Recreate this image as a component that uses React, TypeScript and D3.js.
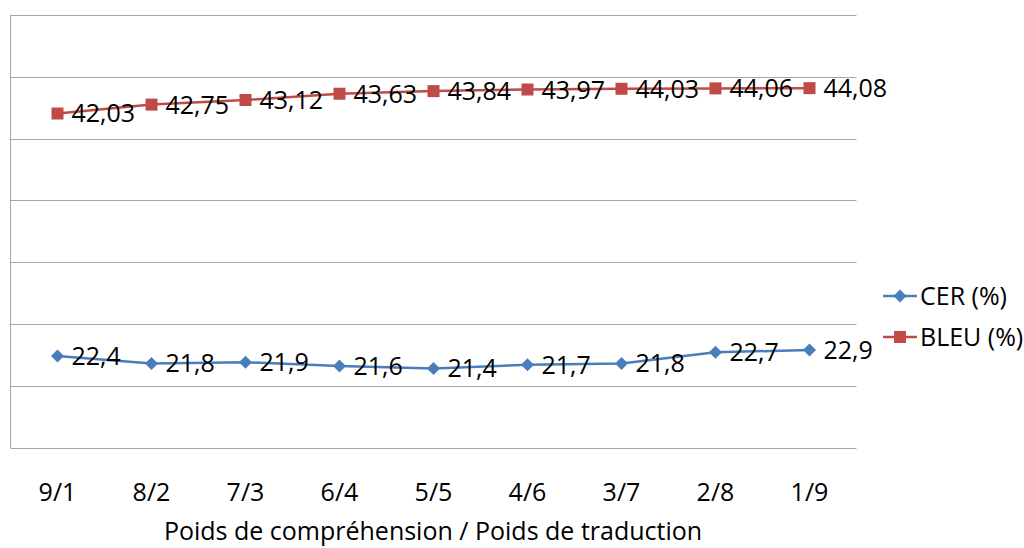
import React from 'react';
import * as d3 from 'd3';

const categories = ['9/1', '8/2', '7/3', '6/4', '5/5', '4/6', '3/7', '2/8', '1/9'];
const cerValues = [22.4, 21.8, 21.9, 21.6, 21.4, 21.7, 21.8, 22.7, 22.9];
const bleuValues = [42.03, 42.75, 43.12, 43.63, 43.84, 43.97, 44.03, 44.06, 44.08];
const yTicks = [15, 20, 25, 30, 35, 40, 45, 50];

const W = 1024;
const H = 548;
const plot = { left: 10.5, right: 856.5, top: 15, bottom: 447.5 };
const FONT = '"Open Sans", sans-serif';

const locale = d3.formatLocale({ decimal: ',', thousands: ' ', grouping: [3], currency: ['', '€'] });

const series = [
  { name: 'CER (%)', values: cerValues, color: '#4a7ebb', marker: 'diamond', fmt: locale.format('.1f') },
  { name: 'BLEU (%)', values: bleuValues, color: '#be4b48', marker: 'square', fmt: locale.format('.2f') },
];

const Marker = ({ kind, x, y, color }: { kind: string; x: number; y: number; color: string }) =>
  kind === 'square' ? (
    <rect x={x - 6} y={y - 6} width={12} height={12} fill={color} />
  ) : (
    <path d={`M${x},${y - 6.5}L${x + 6.5},${y}L${x},${y + 6.5}L${x - 6.5},${y}Z`} fill={color} />
  );

export default function App() {
  const x = d3.scalePoint<string>().domain(categories).range([plot.left, plot.right]).padding(0.5);
  const y = d3.scaleLinear().domain([15, 50]).range([plot.bottom, plot.top]);
  const line = d3
    .line<number>()
    .x((_, i) => x(categories[i]) as number)
    .y((d) => y(d));

  return (
    <svg
      width={W}
      height={H}
      style={{ position: 'absolute', left: 0, top: 0, background: '#fff', fontFamily: FONT }}
    >
      {yTicks.map((t) => (
        <line key={t} x1={plot.left} x2={plot.right} y1={Math.round(y(t)) + 0.5} y2={Math.round(y(t)) + 0.5} stroke="#a6a6a6" strokeWidth={1} />
      ))}
      <line x1={plot.left} x2={plot.left} y1={plot.top} y2={plot.bottom + 0.5} stroke="#a6a6a6" strokeWidth={1} />

      {series.map((s) => (
        <g key={s.name}>
          <path d={line(s.values) || ''} fill="none" stroke={s.color} strokeWidth={2.5} />
          {s.values.map((v, i) => (
            <Marker key={i} kind={s.marker} x={x(categories[i]) as number} y={y(v)} color={s.color} />
          ))}
          {s.values.map((v, i) => (
            <text
              key={'l' + i}
              x={(x(categories[i]) as number) + 14}
              y={y(v)}
              dy="0.36em"
              fontSize={25}
              fill="#000"
            >
              {s.fmt(v)}
            </text>
          ))}
        </g>
      ))}

      {categories.map((c) => (
        <text key={c} x={x(c)} y={492} dy="0.36em" textAnchor="middle" fontSize={25} fill="#000">
          {c}
        </text>
      ))}

      <text x={433} y={531} dy="0.36em" textAnchor="middle" fontSize={25} fill="#000">
        Poids de compréhension / Poids de traduction
      </text>

      {series.map((s, i) => {
        const ly = 296 + i * 41;
        return (
          <g key={'leg' + s.name}>
            <line x1={883} x2={917} y1={ly} y2={ly} stroke={s.color} strokeWidth={2.5} />
            <Marker kind={s.marker} x={900} y={ly} color={s.color} />
            <text x={920} y={ly} dy="0.36em" fontSize={25} fill="#000">
              {s.name}
            </text>
          </g>
        );
      })}
    </svg>
  );
}
